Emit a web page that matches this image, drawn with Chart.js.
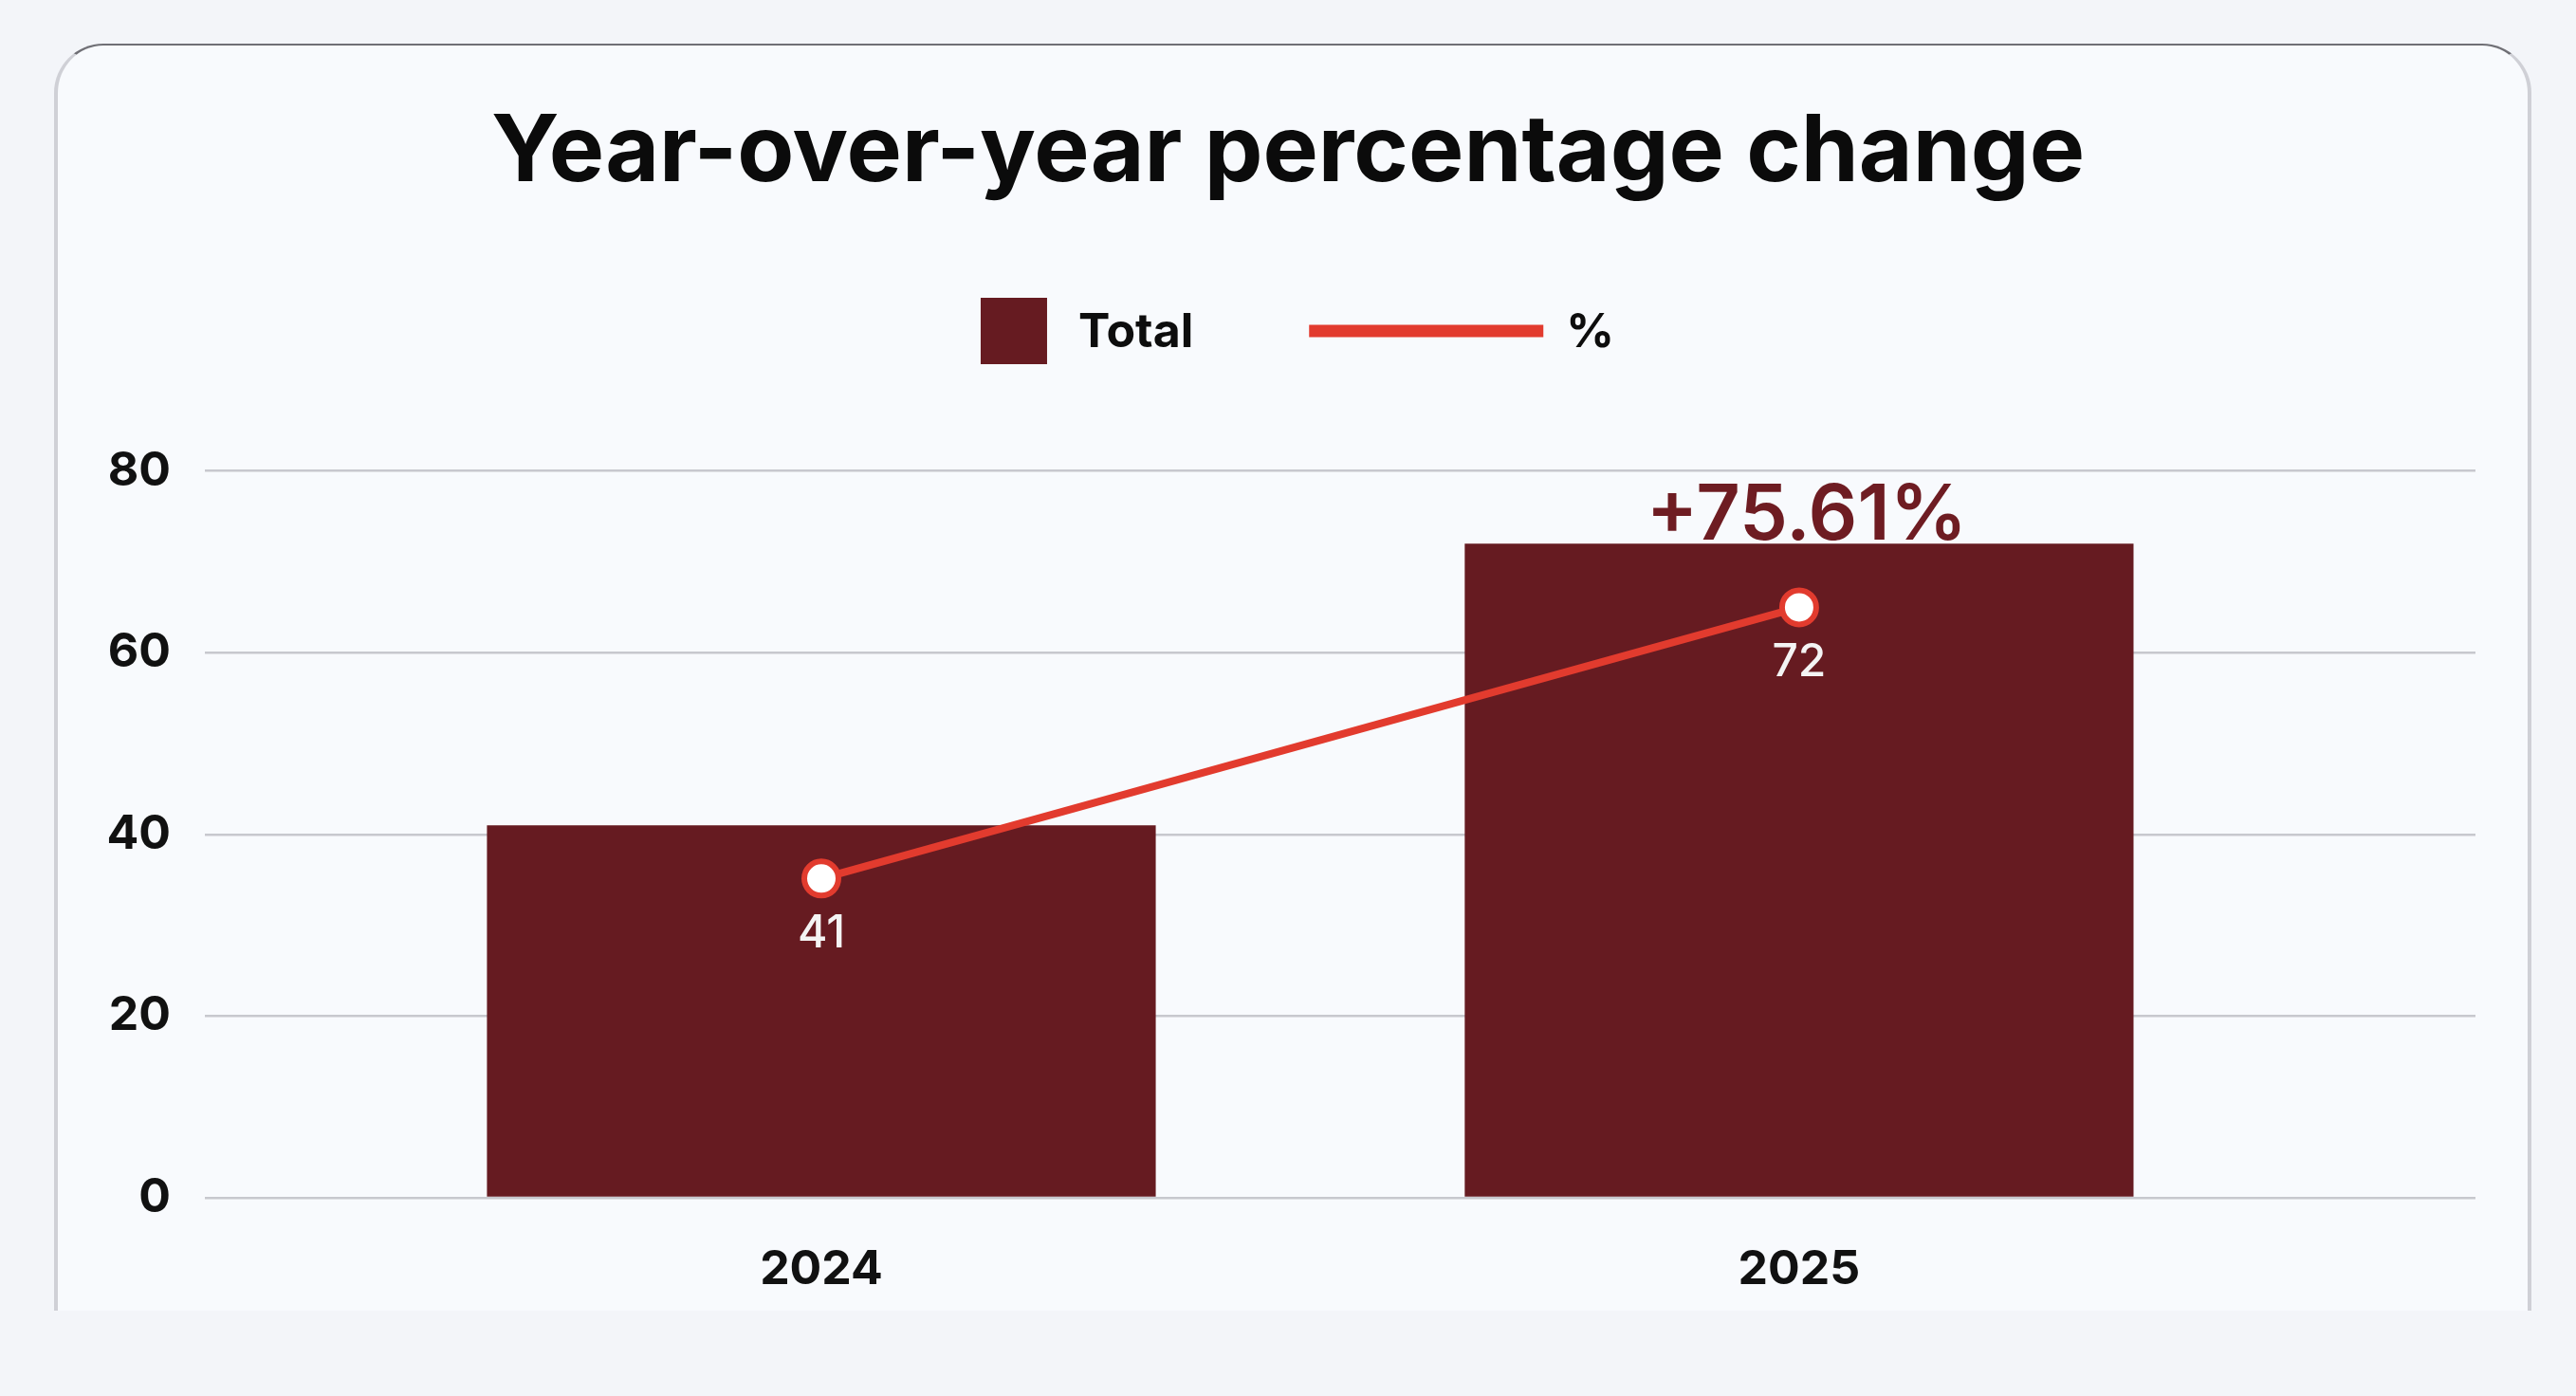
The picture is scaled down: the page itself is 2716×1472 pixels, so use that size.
<!DOCTYPE html>
<html>
<head>
<meta charset="utf-8">
<script src="https://cdn.jsdelivr.net/npm/chart.js@4.4.1/dist/chart.umd.min.js"></script>
<style>
  html, body { margin: 0; padding: 0; background: #f3f5f9; width: 2716px; height: 1472px; overflow: hidden; }
  #card {
    position: absolute; left: 57px; top: 46px; width: 2604px; height: 1334px;
    background: #f8fafd;
    border-top: 2px solid #6f6f75;
    border-left: 4px solid #cfd0d6;
    border-right: 4px solid #cfd0d6;
    border-radius: 52px 52px 0 0;
  }
  #c { position: absolute; left: 0; top: 0; }
</style>
</head>
<body>
<div id="card"></div>
<canvas id="c" width="2716" height="1472"></canvas>
<script>
// ---- data ----
const categories = ['2024', '2025'];
const totals = [41, 72];
const seriesLabels = ['Total', '%'];
const yTicks = [0, 20, 40, 60, 80];
const titleText = 'Year-over-year percentage change';

const barColor = '#661b21';
const lineColor = '#e23b2e';
const FONT = 'Inter, "Noto Sans", sans-serif';

const pctChange = ((totals[totals.length - 1] - totals[0]) / totals[0] * 100);
const pctText = (pctChange >= 0 ? '+' : '') + pctChange.toFixed(2) + '%';

const points = categories.map((c, i) => ({ x: Number(c), y: totals[i] }));

const legendPlugin = {
  id: 'customLegend',
  afterDraw(chart) {
    const ctx = chart.ctx;
    const ds = chart.data.datasets;
    const barDs = ds.find(d => d.type === 'bar');
    const lineDs = ds.find(d => d.type === 'line');
    ctx.save();
    ctx.font = '700 50px ' + FONT;
    const boxW = 70, gap1 = 33, gap2 = 122, lineW = 247, gap3 = 24;
    const w1 = ctx.measureText(barDs.label).width;
    const w2 = ctx.measureText(lineDs.label).width;
    const total = boxW + gap1 + w1 + gap2 + lineW + gap3 + w2;
    let x = chart.width / 2 - total / 2 + 10;
    const cy = 349;
    ctx.fillStyle = barDs.backgroundColor;
    ctx.fillRect(x, cy - 35, boxW, 70);
    x += boxW + gap1;
    ctx.fillStyle = '#0d0d0d';
    ctx.textBaseline = 'middle';
    ctx.textAlign = 'left';
    ctx.fillText(barDs.label, x, cy + 2);
    x += w1 + gap2;
    ctx.fillStyle = lineDs.borderColor;
    ctx.fillRect(x, cy - 6.5, lineW, 13);
    x += lineW + gap3;
    ctx.fillStyle = '#0d0d0d';
    ctx.fillText(lineDs.label, x, cy + 2);
    ctx.restore();
  }
};

const labelsPlugin = {
  id: 'valueLabels',
  afterDatasetsDraw(chart) {
    const ctx = chart.ctx;
    ctx.save();
    chart.data.datasets.forEach((ds, di) => {
      const meta = chart.getDatasetMeta(di);
      if (ds.type === 'line') {
        ctx.font = '500 48px ' + FONT;
        ctx.fillStyle = '#f4f4f4';
        ctx.textAlign = 'center';
        ctx.textBaseline = 'middle';
        meta.data.forEach((el, i) => {
          ctx.fillText(String(ds.data[i].y), el.x, el.y + 58);
        });
      }
      if (ds.type === 'bar') {
        const el = meta.data[meta.data.length - 1];
        ctx.font = '600 81px ' + FONT;
        ctx.fillStyle = '#6e1c22';
        ctx.textAlign = 'center';
        ctx.textBaseline = 'alphabetic';
        ctx.fillText(pctText, el.x + 8, el.y - 4);
      }
    });
    ctx.restore();
  }
};

new Chart(document.getElementById('c'), {
  type: 'bar',
  data: {
    datasets: [
      {
        type: 'line',
        label: seriesLabels[1],
        data: points,
        yAxisID: 'y1',
        borderColor: lineColor,
        borderWidth: 8,
        pointRadius: 18,
        pointHoverRadius: 18,
        pointBorderWidth: 6,
        pointBackgroundColor: '#ffffff',
        pointBorderColor: lineColor,
        tension: 0,
        order: 0
      },
      {
        type: 'bar',
        label: seriesLabels[0],
        data: points,
        yAxisID: 'y',
        backgroundColor: barColor,
        borderWidth: 0,
        categoryPercentage: 1,
        barPercentage: 0.684,
        order: 1
      }
    ]
  },
  options: {
    responsive: false,
    devicePixelRatio: 1,
    animation: false,
    layout: { padding: { left: 106, right: 106, top: 0, bottom: 65 } },
    plugins: {
      legend: { display: false },
      tooltip: { enabled: false },
      title: {
        display: true,
        text: titleText,
        color: '#0b0b0b',
        font: { family: FONT, size: 98, weight: '700' },
        padding: { top: 103, bottom: 276 }
      }
    },
    scales: {
      x: {
        type: 'linear',
        offset: false,
        min: 2023.3695,
        max: 2025.6917,
        grid: { display: false },
        border: { display: false },
        afterBuildTicks: s => { s.ticks = categories.map(c => ({ value: Number(c) })); },
        ticks: {
          padding: 38,
          color: '#111111',
          font: { family: FONT, size: 50, weight: '700' },
          callback: v => categories.find(c => Number(c) === v) || ''
        }
      },
      y: {
        min: yTicks[0],
        max: yTicks[yTicks.length - 1],
        afterBuildTicks: s => { s.ticks = yTicks.map(v => ({ value: v })); },
        afterFit: s => { s.width = 110; },
        grid: { color: '#c7c8ce', lineWidth: 2.5, drawTicks: false },
        border: { display: false },
        ticks: {
          padding: 36,
          color: '#111111',
          font: { family: FONT, size: 50, weight: '700' }
        }
      },
      y1: {
        display: false,
        min: 4.5,
        max: 87.6
      }
    }
  },
  plugins: [legendPlugin, labelsPlugin]
});
</script>
</body>
</html>
